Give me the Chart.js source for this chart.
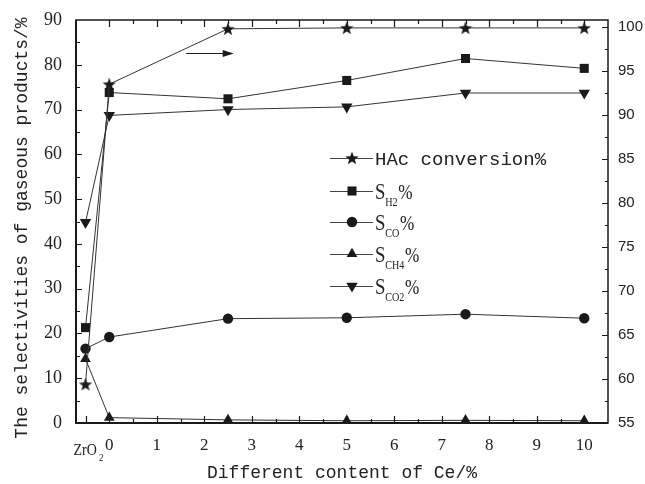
<!DOCTYPE html>
<html>
<head>
<meta charset="utf-8">
<script src="https://cdn.jsdelivr.net/npm/chart.js@4/dist/chart.umd.min.js"></script>
<style>
  html, body { margin: 0; padding: 0; background: #fff; }
  #wrap { width: 645px; height: 484px; }
</style>
</head>
<body>
<div id="wrap"><canvas id="chart"></canvas></div>
<script>
// Ce loading on the catalyst; the bare ZrO2 support sits left of 0
const ceContent = [-0.5, 0, 2.5, 5, 7.5, 10];
const xTicks = [0, 1, 2, 3, 4, 5, 6, 7, 8, 9, 10];
const leftTicks = [0, 10, 20, 30, 40, 50, 60, 70, 80, 90];
const rightTicks = [55, 60, 65, 70, 75, 80, 85, 90, 95, 100];

// HAc conversion is read on the right axis, selectivities on the left
const hacConversion = [59.4, 93.5, 99.8, 99.9, 99.9, 99.9];
const selH2 = [21.3, 73.8, 72.4, 76.5, 81.4, 79.2];
const selCO = [16.6, 19.2, 23.3, 23.5, 24.3, 23.4];
const selCH4 = [14.3, 1.2, 0.7, 0.5, 0.6, 0.5];
const selCO2 = [44.8, 68.7, 70.0, 70.6, 73.7, 73.7];

const INK = '#1a1a1a';
const LINE = '#333';

// filled five-point star, Chart.js's own 'star' is an asterisk
function starImage(size) {
  const c = document.createElement('canvas');
  c.width = c.height = size;
  const g = c.getContext('2d');
  const cx = size / 2, cy = size / 2 + 0.6, ro = size / 2, ri = ro * 0.42;
  g.beginPath();
  for (let i = 0; i < 10; i++) {
    const r = i % 2 ? ri : ro;
    const a = -Math.PI / 2 + i * Math.PI / 5;
    g.lineTo(cx + r * Math.cos(a), cy + r * Math.sin(a));
  }
  g.closePath();
  g.fillStyle = INK;
  g.fill();
  return c;
}
const STAR = starImage(14);

function pts(vals) {
  return vals.map((v, i) => ({ x: ceContent[i], y: v }));
}

function series(label, vals, style, radius, axis, rotation) {
  return {
    label,
    data: pts(vals),
    yAxisID: axis,
    borderColor: LINE,
    borderWidth: 1,
    backgroundColor: INK,
    pointStyle: style,
    pointRadius: radius,
    pointRotation: rotation || 0,
    pointBorderColor: INK,
    pointBackgroundColor: INK,
    pointBorderWidth: 0,
    tension: 0
  };
}

const datasets = [
  series('HAc conversion%', hacConversion, STAR, 7, 'y1'),
  series('H2', selH2, 'rect', 6.4, 'y'),
  series('CO', selCO, 'circle', 5.2, 'y'),
  series('CH4', selCH4, 'triangle', 6.2, 'y'),
  series('CO2', selCO2, 'triangle', 6.6, 'y', 180)
];
const legendSubs = [null, 'H2', 'CO', 'CH4', 'CO2'];

// tick marks on all four sides, drawn inward, plus the frame
const framePlugin = {
  id: 'frame',
  afterDraw(chart) {
    const { ctx, chartArea: a, scales } = chart;
    const xs = scales.x, yl = scales.y, yr = scales.y1;
    ctx.save();
    ctx.strokeStyle = INK;
    ctx.lineWidth = 1.2;
    ctx.beginPath();
    for (let v = 0; v <= 10.001; v += 0.5) {
      const px = Math.round(xs.getPixelForValue(v)) + 0.5;
      const len = Number.isInteger(v) ? 7 : 4;
      ctx.moveTo(px, a.bottom); ctx.lineTo(px, a.bottom - len);
      ctx.moveTo(px, a.top); ctx.lineTo(px, a.top + len);
    }
    const zx = Math.round(xs.getPixelForValue(ceContent[0])) + 0.5;
    ctx.moveTo(zx, a.bottom); ctx.lineTo(zx, a.bottom - 7);
    for (let v = 5; v < 90; v += 5) {
      const py = Math.round(yl.getPixelForValue(v)) + 0.5;
      ctx.moveTo(a.left, py); ctx.lineTo(a.left + (v % 10 ? 4 : 6), py);
    }
    for (let v = 57.5; v <= 100; v += 2.5) {
      const py = Math.round(yr.getPixelForValue(v)) + 0.5;
      ctx.moveTo(a.right, py); ctx.lineTo(a.right - (v % 5 ? 3 : 6), py);
    }
    ctx.stroke();

    ctx.lineWidth = 1.5;
    ctx.strokeRect(a.left, a.top, a.right - a.left, a.bottom - a.top);
    ctx.lineWidth = 2;
    ctx.beginPath();
    ctx.moveTo(a.left, a.top); ctx.lineTo(a.left, a.bottom); ctx.lineTo(a.right, a.bottom);
    ctx.stroke();

    // ZrO2 label under the support point
    ctx.fillStyle = '#222';
    ctx.textBaseline = 'alphabetic';
    ctx.textAlign = 'left';
    ctx.save();
    ctx.translate(zx - 13, a.bottom + 32);
    ctx.scale(0.82, 1);
    ctx.font = '17px "Liberation Serif"';
    ctx.fillText('ZrO', 0, 0);
    ctx.font = '11px "Liberation Serif"';
    ctx.fillText('2', 31, 6);
    ctx.restore();

    // arrow pointing at the right-hand axis
    const ax0 = xs.getPixelForValue(1.62), ax1 = xs.getPixelForValue(2.62);
    const ay = Math.round(yl.getPixelForValue(82.6)) + 0.5;
    ctx.strokeStyle = INK;
    ctx.lineWidth = 1.2;
    ctx.beginPath();
    ctx.moveTo(ax0, ay); ctx.lineTo(ax1 - 8, ay);
    ctx.stroke();
    ctx.beginPath();
    ctx.moveTo(ax1, ay); ctx.lineTo(ax1 - 11, ay - 3.5); ctx.lineTo(ax1 - 11, ay + 3.5);
    ctx.closePath();
    ctx.fillStyle = INK;
    ctx.fill();

    // axis titles
    ctx.fillStyle = '#222';
    ctx.font = '18px "Liberation Mono"';
    ctx.textAlign = 'center';
    ctx.textBaseline = 'middle';
    ctx.fillText('Different content of Ce/%', (a.left + a.right) / 2, 473);
    ctx.save();
    ctx.translate(22, 228);
    ctx.rotate(-Math.PI / 2);
    ctx.fillText('The selectivities of gaseous products/%', 0, 0);
    ctx.restore();

    // legend block inside the plot
    const lx = 330, ly = [158, 191, 222, 254, 286];
    chart.data.datasets.forEach((ds, i) => {
      const y = ly[i];
      ctx.strokeStyle = '#444';
      ctx.lineWidth = 1.2;
      ctx.beginPath();
      ctx.moveTo(lx, y + 0.5); ctx.lineTo(lx + 43, y + 0.5);
      ctx.stroke();
      ctx.fillStyle = INK;
      ctx.strokeStyle = INK;
      Chart.helpers.drawPoint(ctx, {
        pointStyle: ds.pointStyle,
        rotation: ds.pointRotation,
        radius: i === 0 ? 7 : ds.pointRadius,
        borderWidth: 0
      }, lx + 22, y);
      ctx.textAlign = 'left';
      ctx.textBaseline = 'alphabetic';
      ctx.fillStyle = '#222';
      const tx = lx + 45;
      if (!legendSubs[i]) {
        ctx.font = '19px "Liberation Mono"';
        ctx.fillText(ds.label, tx, y + 7);
      } else {
        ctx.save();
        ctx.translate(tx, y + 8);
        ctx.scale(0.78, 1);
        ctx.font = '24px "Liberation Serif"';
        ctx.fillText('S', 0, 0);
        ctx.font = '13px "Liberation Serif"';
        const sw = ctx.measureText(legendSubs[i]).width;
        ctx.fillText(legendSubs[i], 13, 7);
        ctx.font = '22px "Liberation Serif"';
        ctx.fillText('%', 14 + sw, 0);
        ctx.restore();
      }
    });
    ctx.restore();
  }
};

new Chart(document.getElementById('chart'), {
  type: 'line',
  data: { datasets },
  options: {
    responsive: true,
    maintainAspectRatio: false,
    animation: false,
    layout: { padding: { top: 20, left: 0, right: 0, bottom: 0 } },
    plugins: { legend: { display: false }, tooltip: { enabled: false } },
    scales: {
      x: {
        type: 'linear',
        min: -0.7,
        max: 10.5,
        afterBuildTicks: s => { s.ticks = xTicks.map(v => ({ value: v })); },
        afterFit: s => { s.height = 61; },
        grid: { display: false },
        border: { display: false },
        ticks: {
          color: '#222',
          padding: 4,
          font: { family: 'Liberation Serif', size: 17 },
          maxRotation: 0,
          autoSkip: false
        }
      },
      y: {
        position: 'left',
        min: 0,
        max: 90,
        afterBuildTicks: s => { s.ticks = leftTicks.map(v => ({ value: v })); },
        afterFit: s => { s.width = 76; },
        grid: { display: false },
        border: { display: false },
        ticks: {
          color: '#222',
          padding: 6,
          font: { family: 'Liberation Serif', size: 18 }
        }
      },
      y1: {
        position: 'right',
        min: 55,
        max: 100.8,
        afterBuildTicks: s => { s.ticks = rightTicks.map(v => ({ value: v })); },
        afterFit: s => { s.width = 37; },
        grid: { display: false },
        border: { display: false },
        ticks: {
          color: '#222',
          padding: 2,
          font: { family: 'Liberation Sans', size: 15 }
        }
      }
    }
  },
  plugins: [framePlugin]
});
</script>
</body>
</html>
